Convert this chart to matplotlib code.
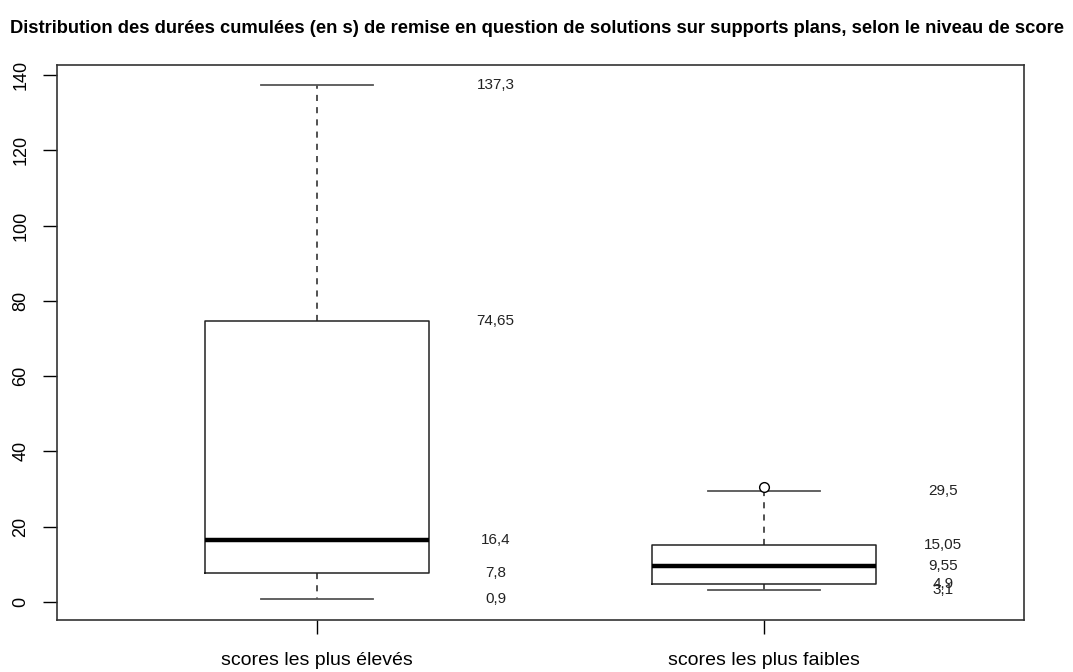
import matplotlib.pyplot as plt

plt.rcParams['font.family'] = ['Liberation Sans', 'DejaVu Sans']

groups = ["scores les plus élevés", "scores les plus faibles"]
whislo = [0.9, 3.1]
q1 = [7.8, 4.9]
med = [16.4, 9.55]
q3 = [74.65, 15.05]
whishi = [137.3, 29.5]
outliers = [[], [30.5]]

stats = []
for i in range(len(groups)):
    stats.append(dict(whislo=whislo[i], q1=q1[i], med=med[i], q3=q3[i],
                      whishi=whishi[i], fliers=outliers[i], label=groups[i]))

fig = plt.figure(figsize=(10.73, 6.72), dpi=100)
ax = fig.add_axes([57 / 1073, 52 / 672, 967 / 1073, 555 / 672])

ax.bxp(stats, positions=[1, 2], widths=0.5, capwidths=0.25,
       boxprops=dict(color='#222222', lw=1.1),
       medianprops=dict(color='black', lw=3.2),
       whiskerprops=dict(color='#222222', lw=1.1, linestyle=(0, (4, 4))),
       capprops=dict(color='#555555', lw=1.3),
       flierprops=dict(marker='o', markersize=7, markerfacecolor='white',
                       markeredgecolor='black', markeredgewidth=1.0))

# valeurs affichées à droite de chaque boîte
for i in range(len(groups)):
    for v in [whislo[i], q1[i], med[i], q3[i], whishi[i]]:
        lab = ('%g' % v).replace('.', ',')
        ax.text(i + 1.4, v, lab, ha='center', va='center', fontsize=11, color='#222222')

ax.set_xlim(0.42, 2.58)
ax.set_ylim(-4.78, 142.66)
ax.set_yticks(range(0, 141, 20))
ax.tick_params(axis='y', labelrotation=90, labelsize=13, length=10, width=1, pad=10)
for t in ax.get_yticklabels():
    t.set_va('center')
ax.tick_params(axis='x', labelsize=14, length=10, width=1, pad=13)
for s in ax.spines.values():
    s.set_linewidth(1.2)
    s.set_color('#333333')

fig.text(0.5, 0.958, "Distribution des durées cumulées (en s) de remise en question de solutions sur supports plans, selon le niveau de score",
         ha='center', va='center', fontsize=13.2, fontweight='bold')

fig.savefig('out.png', dpi=100)
